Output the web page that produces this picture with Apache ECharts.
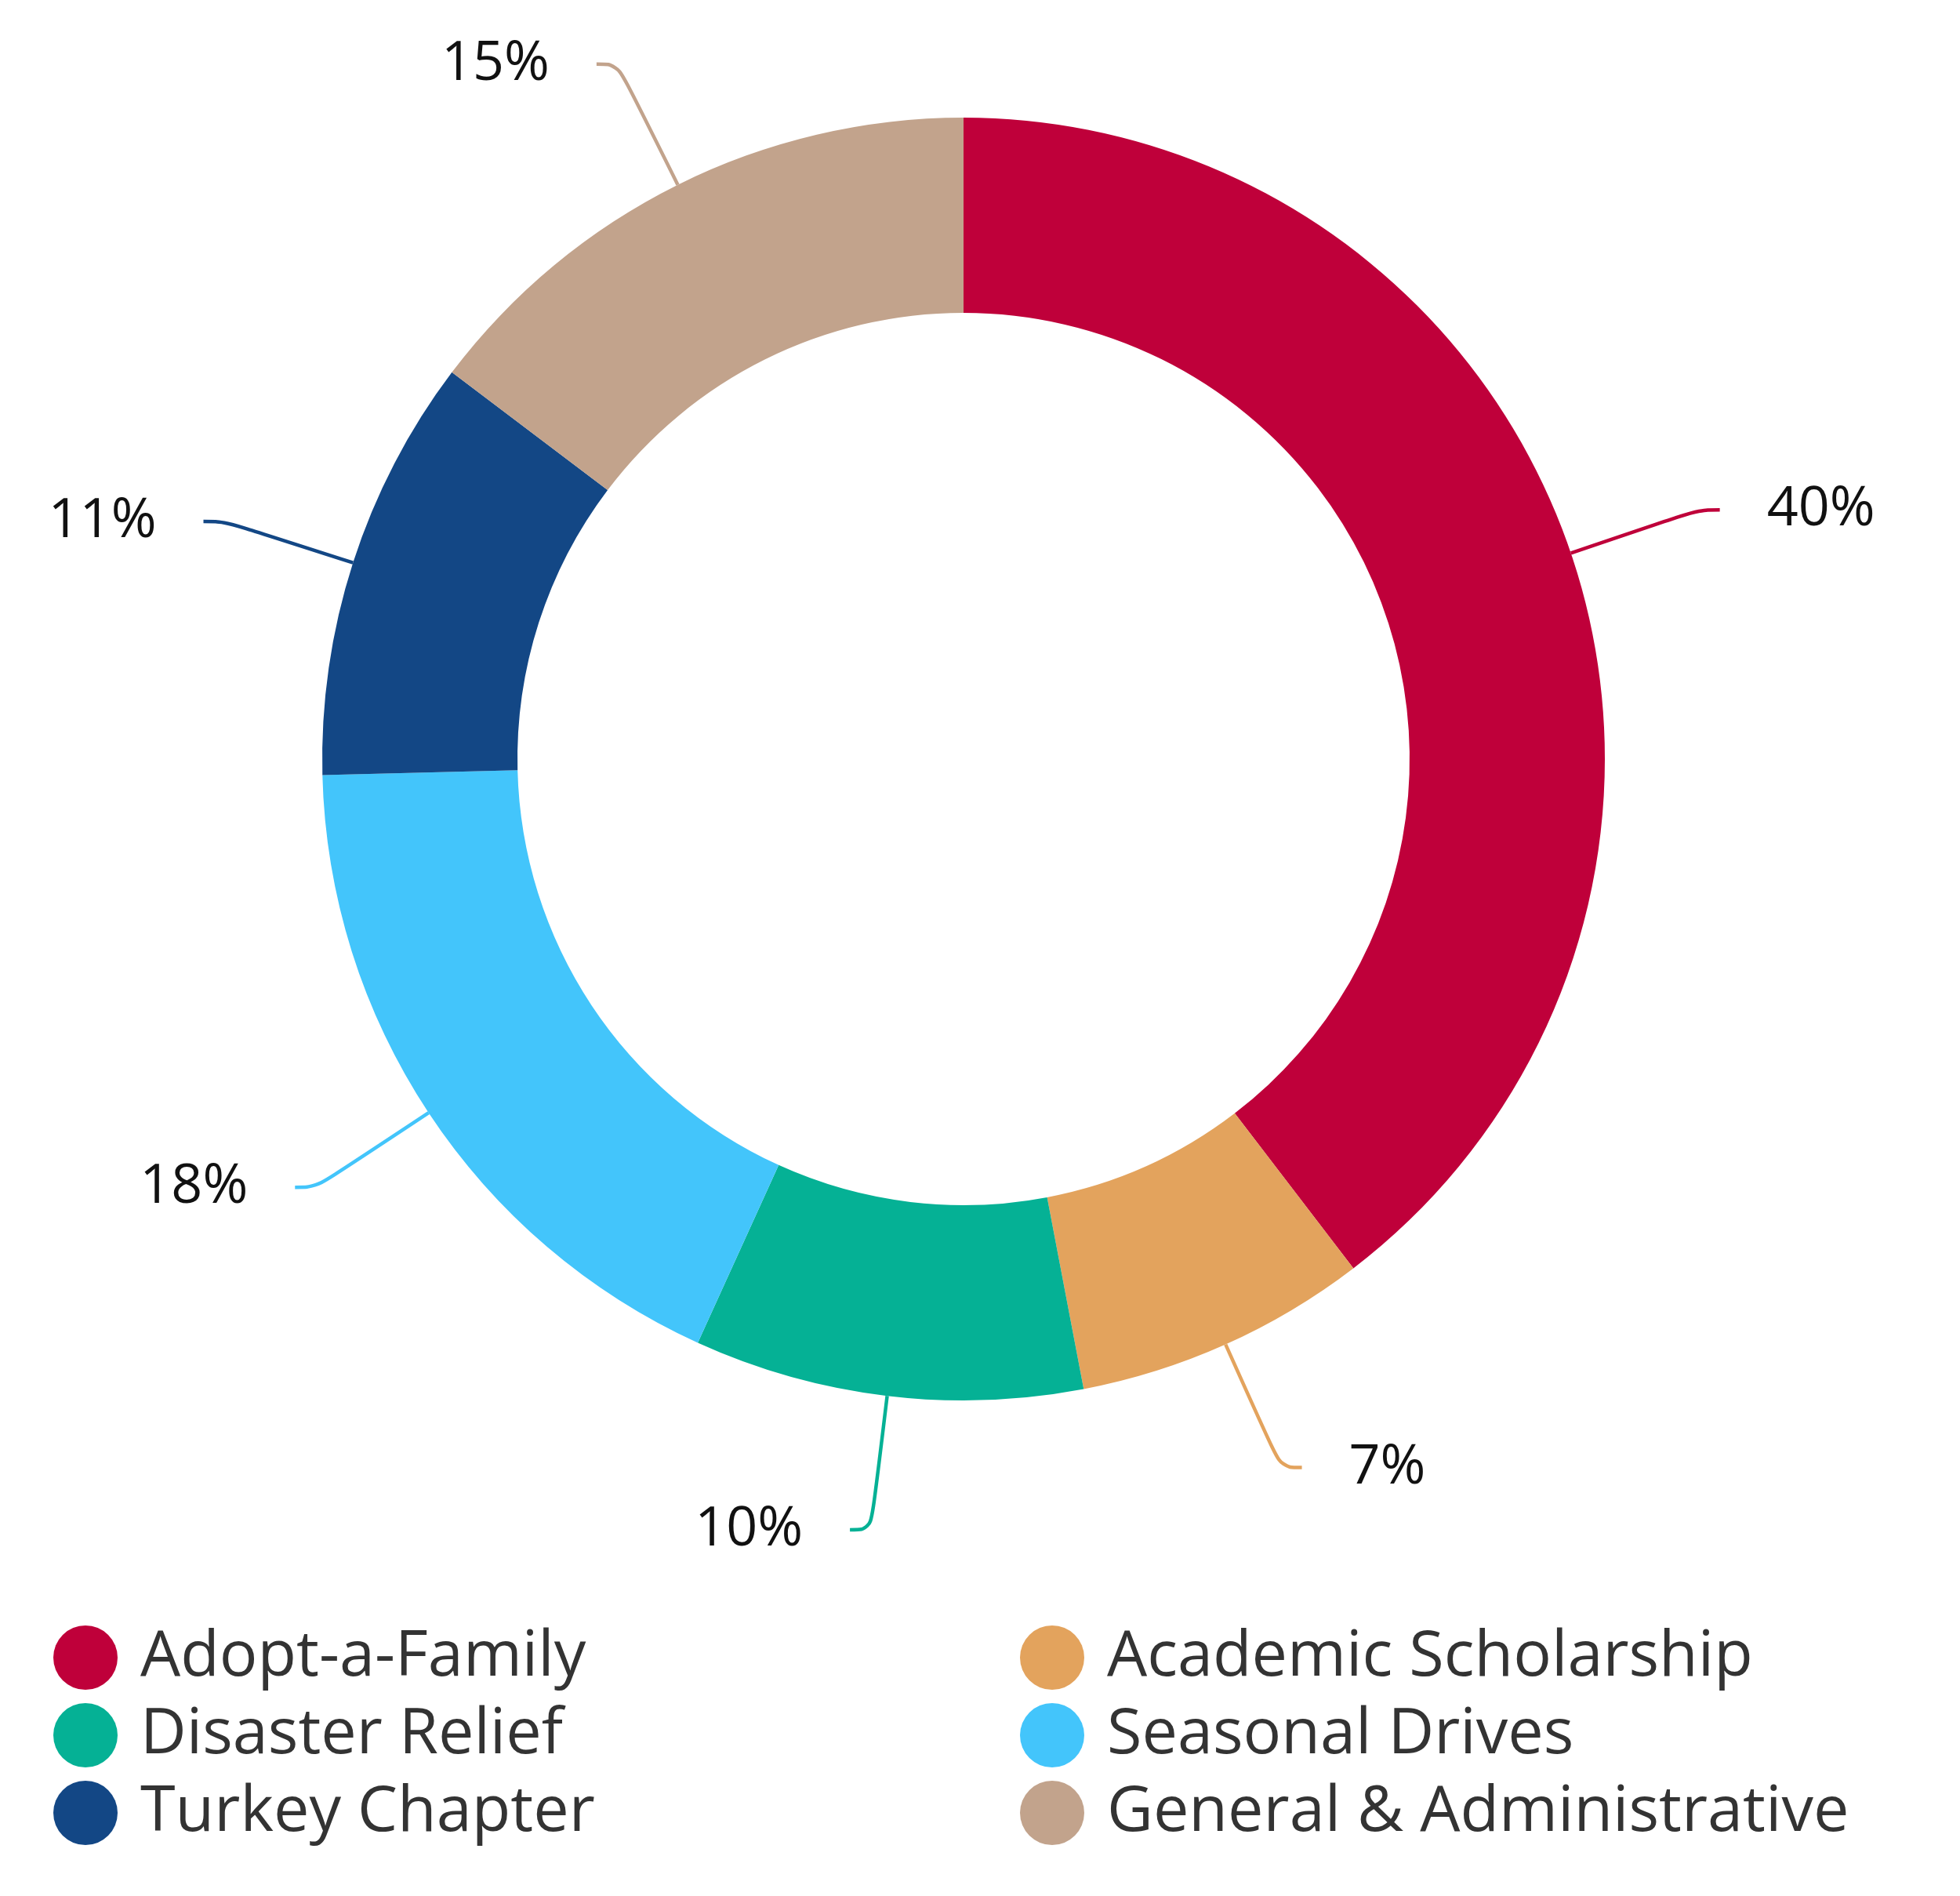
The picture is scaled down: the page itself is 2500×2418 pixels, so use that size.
<!DOCTYPE html>
<html>
<head>
<meta charset="utf-8">
<script src="https://cdn.jsdelivr.net/npm/echarts@6/dist/echarts.min.js"></script>
<style>
  html, body { margin: 0; padding: 0; background: #fff; }
  #chart { width: 2500px; height: 2418px; }
</style>
</head>
<body>
<div id="chart"></div>
<script>
const categories = ['Adopt-a-Family', 'Academic Scholarship', 'Disaster Relief', 'Seasonal Drives', 'Turkey Chapter', 'General & Administrative']
const shares = [39.6, 7.4, 9.8, 17.8, 10.7, 14.7]
const colorList = ['#bf003a', '#e3a35d', '#05b195', '#43c5fb', '#134785', '#c2a38c']

const leftColumn = [categories[0], categories[2], categories[4]]
const rightColumn = [categories[1], categories[3], categories[5]]

const chart = echarts.init(document.getElementById('chart'))

const legendBase = {
  orient: 'vertical',
  top: 2068,
  icon: 'circle',
  itemWidth: 82,
  itemHeight: 82,
  itemGap: 17,
  selectedMode: false,
  textStyle: {
    fontFamily: 'Open Sans',
    fontSize: 81,
    lineHeight: 82,
    color: '#333',
    padding: [0, 0, 0, 24],
  },
}

const option = {
  backgroundColor: '#fff',
  color: colorList,
  animation: false,
  legend: [
    { ...legendBase, left: 63, data: leftColumn },
    { ...legendBase, left: 1296, data: rightColumn },
  ],
  series: [
    {
      type: 'pie',
      center: [1229, 968],
      radius: [569, 818],
      startAngle: 90,
      clockwise: true,
      avoidLabelOverlap: false,
      data: categories.map((name, i) => ({ name, value: shares[i] })),
      label: {
        show: true,
        position: 'outside',
        formatter: (p) => Math.round(p.value) + '%',
        fontFamily: 'Open Sans',
        fontSize: 70,
        color: '#111',
        distanceToLabelLine: 60,
      },
      labelLine: {
        show: true,
        length: 172,
        length2: 27,
        smooth: 0.4,
        lineStyle: { width: 4.5 },
      },
      emphasis: { disabled: true },
    },
  ],
}

chart.setOption(option)
</script>
</body>
</html>
